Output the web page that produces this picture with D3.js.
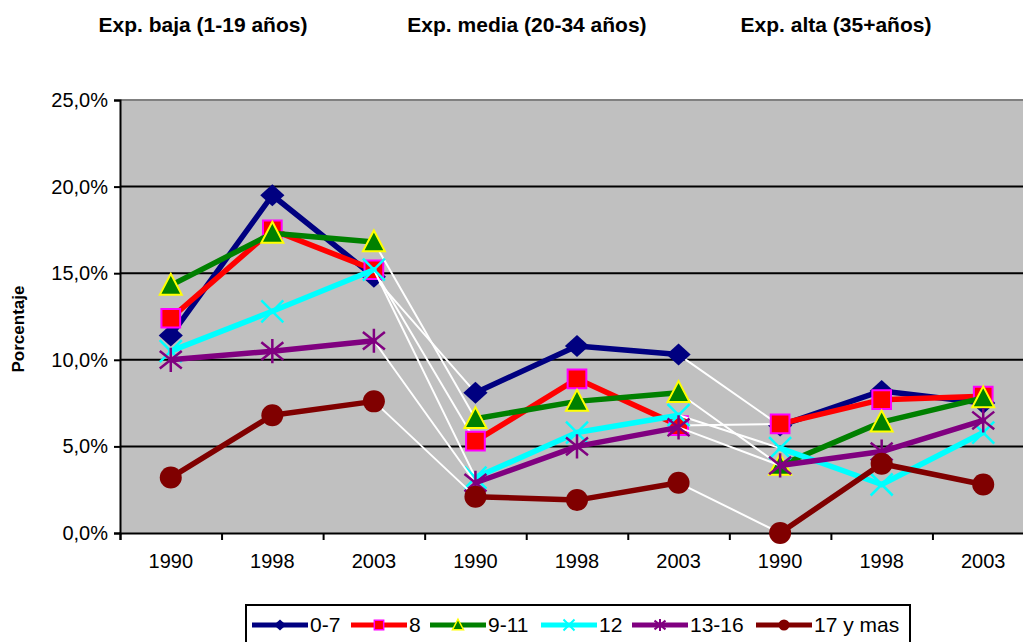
<!DOCTYPE html>
<html>
<head>
<meta charset="utf-8">
<script src="https://cdn.jsdelivr.net/npm/d3@7"></script>
<style>
  body { margin: 0; background: #fff; }
  svg { display: block; font-family: "Liberation Sans", Arial, sans-serif; }
</style>
</head>
<body>
<svg></svg>
<script>
const width = 1023
const height = 642
const marginLeft = 120
const marginTop = 100
const plotWidth = 914
const plotHeight = 433

// data
const years = ["1990", "1998", "2003", "1990", "1998", "2003", "1990", "1998", "2003"]
const groupTitles = ["Exp. baja (1-19 años)", "Exp. media (20-34 años)", "Exp. alta (35+años)"]
const seriesNames = ["0-7", "8", "9-11", "12", "13-16", "17 y mas"]
const yTicks = [0, 5, 10, 15, 20, 25]

const s0_7 = [11.4, 19.5, 14.8, 8.1, 10.8, 10.3, 6.2, 8.2, 7.5]
const s8 = [12.4, 17.5, 15.2, 5.3, 8.9, 6.2, 6.3, 7.7, 7.9]
const s9_11 = [14.3, 17.3, 16.8, 6.6, 7.6, 8.1, 3.9, 6.4, 7.8]
const s12 = [10.5, 12.8, 15.2, 3.2, 5.8, 6.8, 4.9, 2.8, 5.8]
const s13_16 = [10.0, 10.5, 11.1, 2.9, 5.0, 6.1, 3.9, 4.7, 6.5]
const s17 = [3.2, 6.8, 7.6, 2.1, 1.9, 2.9, 0.0, 4.0, 2.8]

const seriesValues = [s0_7, s8, s9_11, s12, s13_16, s17]

const styles = [
  {color: "#000080", marker: "diamond", fill: "#000080", stroke: "none"},
  {color: "#FF0000", marker: "square", fill: "#FF0000", stroke: "#FF00FF"},
  {color: "#008000", marker: "triangle", fill: "#008000", stroke: "#FFFF00"},
  {color: "#00FFFF", marker: "x", fill: "none", stroke: "#00FFFF"},
  {color: "#800080", marker: "star", fill: "none", stroke: "#800080"},
  {color: "#800000", marker: "circle", fill: "#800000", stroke: "none"}
]

function markerPath(type, s) {
  // s = half size
  if (type === "diamond") return `M0,${-s}L${s * 1.1},0L0,${s}L${-s * 1.1},0Z`
  if (type === "square") return `M${-s * 0.85},${-s * 0.85}h${s * 1.7}v${s * 1.7}h${-s * 1.7}Z`
  if (type === "triangle") return `M0,${-s * 1.05}L${s},${s * 0.85}L${-s},${s * 0.85}Z`
  if (type === "x") return `M${-s},${-s}L${s},${s}M${-s},${s}L${s},${-s}`
  if (type === "star") return `M${-s},${-s * 0.8}L${s},${s * 0.8}M${-s},${s * 0.8}L${s},${-s * 0.8}M0,${-s * 1.1}V${s * 1.1}`
  if (type === "circle") return d3.symbol(d3.symbolCircle, Math.PI * s * s)()
}

const svg = d3.select("svg")
  .attr("width", width)
  .attr("height", height)

const g = svg.append("g").attr("transform", `translate(${marginLeft}, ${marginTop})`)

const x = d3.scaleBand()
  .domain(d3.range(years.length))
  .range([0, plotWidth])

const xEdge = d3.scaleLinear().domain([0, years.length]).range([0, plotWidth])

const y = d3.scaleLinear()
  .domain([0, 25])
  .range([plotHeight, 0])

const pct = d3.formatLocale({decimal: ",", thousands: ".", grouping: [3], currency: ["", ""]}).format(".1f")

// plot background
g.append("rect")
  .attr("width", plotWidth)
  .attr("height", plotHeight)
  .attr("fill", "#C0C0C0")

g.append("line")
  .attr("x1", 0).attr("x2", plotWidth)
  .attr("y1", y(25)).attr("y2", y(25))
  .attr("stroke", "#808080").attr("stroke-width", 2)

// gridlines
g.append("g")
  .selectAll("line")
  .data(yTicks.filter(d => d > 0 && d < 25))
  .join("line")
  .attr("x1", 0).attr("x2", plotWidth)
  .attr("y1", d => y(d)).attr("y2", d => y(d))
  .attr("stroke", "#000").attr("stroke-width", 2)

// y axis
const yAxis = g.append("g")
  .call(d3.axisLeft(y).tickValues(yTicks).tickSize(6).tickPadding(6).tickFormat(d => pct(d) + "%"))
yAxis.select(".domain").attr("stroke-width", 2)
yAxis.selectAll(".tick line").attr("stroke-width", 2)
yAxis.selectAll("text").attr("font-size", "20px").attr("fill", "#000").attr("font-family", null)

// x axis: tick marks between categories, labels at centres
const xTicksG = g.append("g")
  .attr("transform", `translate(0, ${plotHeight})`)
  .call(d3.axisBottom(xEdge).tickValues(d3.range(years.length + 1)).tickSize(7).tickFormat(""))
xTicksG.select(".domain").attr("stroke-width", 2)
xTicksG.selectAll(".tick line").attr("stroke-width", 2)

const xLabels = g.append("g")
  .attr("transform", `translate(0, ${plotHeight})`)
  .call(d3.axisBottom(x).tickSize(0).tickPadding(21).tickFormat(i => years[i]))
xLabels.select(".domain").remove()
xLabels.selectAll("text").attr("font-size", "20px").attr("fill", "#000").attr("font-family", null)

// series
const cx = i => x(i) + x.bandwidth() / 2
seriesValues.forEach((vals, k) => {
  const st = styles[k]
  const sg = g.append("g")
  const segs = d3.range(vals.length - 1).map(i => ({i, a: vals[i], b: vals[i + 1], gap: i === 2 || i === 5}))
  sg.selectAll("line")
    .data(segs)
    .join("line")
    .attr("x1", d => cx(d.i)).attr("y1", d => y(d.a))
    .attr("x2", d => cx(d.i + 1)).attr("y2", d => y(d.b))
    .attr("stroke", d => d.gap ? "#fff" : st.color)
    .attr("stroke-width", d => d.gap ? 2 : 5.5)
    .attr("stroke-linecap", "round")
  sg.selectAll("path")
    .data(vals)
    .join("path")
    .attr("transform", (d, i) => `translate(${cx(i)}, ${y(d)})`)
    .attr("d", markerPath(st.marker, 11))
    .attr("fill", st.fill)
    .attr("stroke", st.stroke)
    .attr("stroke-width", st.marker === "x" || st.marker === "star" ? 2.5 : 2)
})

// group titles
const titleX = [203, 527, 836]
svg.append("g")
  .selectAll("text")
  .data(groupTitles)
  .join("text")
  .attr("x", (d, i) => titleX[i])
  .attr("y", 32)
  .attr("text-anchor", "middle")
  .attr("font-size", "21px")
  .attr("font-weight", "bold")
  .text(d => d)

// y label
svg.append("text")
  .attr("transform", `translate(24, 329) rotate(-90)`)
  .attr("text-anchor", "middle")
  .attr("font-size", "17px")
  .attr("font-weight", "bold")
  .text("Porcentaje")

// legend
const legend = svg.append("g")
legend.append("rect")
  .attr("x", 246).attr("y", 605)
  .attr("width", 664).attr("height", 60)
  .attr("fill", "#fff").attr("stroke", "#000").attr("stroke-width", 2)

const legendX = [252, 351, 430, 541, 632, 756]
const legendY = 625
seriesNames.forEach((name, k) => {
  const st = styles[k]
  const lg = legend.append("g").attr("transform", `translate(${legendX[k]}, ${legendY})`)
  lg.append("line")
    .attr("x1", 0).attr("x2", 56)
    .attr("stroke", st.color).attr("stroke-width", 5)
  lg.append("path")
    .attr("transform", "translate(28, 0)")
    .attr("d", markerPath(st.marker, 5.5))
    .attr("fill", st.fill)
    .attr("stroke", st.stroke)
    .attr("stroke-width", st.marker === "x" || st.marker === "star" ? 2 : 1.5)
  lg.append("text")
    .attr("x", 58)
    .attr("y", 7)
    .attr("font-size", "21px")
    .text(name)
})
</script>
</body>
</html>
